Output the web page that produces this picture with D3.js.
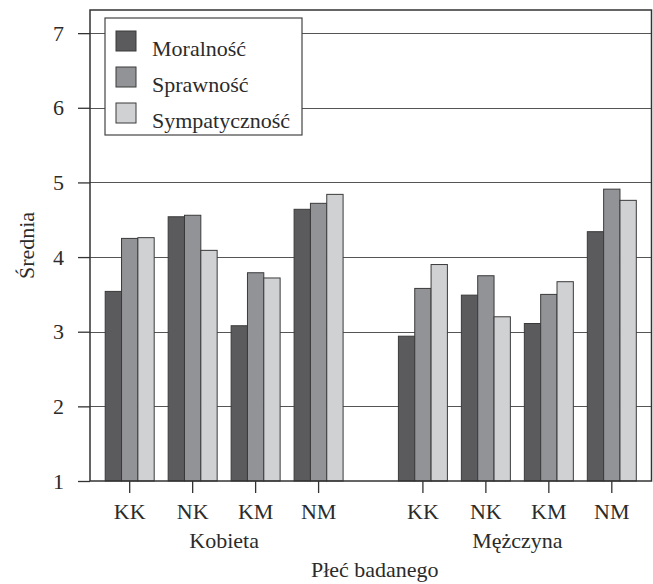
<!DOCTYPE html>
<html lang="pl">
<head>
    <meta charset="UTF-8">
    <title>Średnia wg płci badanego</title>
    <script src="https://d3js.org/d3.v7.min.js"></script>
    <style>
        body { margin: 0; background: #fff; }
        svg text { font-family: "Liberation Serif", "Times New Roman", serif; fill: #2b2b2b; }
    </style>
</head>
<body>
    <div id="chart-container"></div>

    <script>
        // dane
        const genders = ["Kobieta", "Mężczyna"];
        const conditions = ["KK", "NK", "KM", "NM"];
        const series = ["Moralność", "Sprawność", "Sympatyczność"];
        const colors = ["#5b5b5d", "#929397", "#d0d1d3"];
        const yTicks = [1, 2, 3, 4, 5, 6, 7];

        // wartości: [płeć][warunek][cecha]
        const womenValues = [
            [3.54, 4.25, 4.26],
            [4.54, 4.56, 4.09],
            [3.08, 3.79, 3.72],
            [4.64, 4.72, 4.84]
        ];
        const menValues = [
            [2.94, 3.58, 3.90],
            [3.49, 3.75, 3.20],
            [3.11, 3.50, 3.67],
            [4.34, 4.91, 4.76]
        ];
        const allValues = [womenValues, menValues];

        const data = [];
        genders.forEach((g, gi) => {
            conditions.forEach((c, ci) => {
                series.forEach((s, si) => {
                    data.push({ gender: g, cond: c, serie: s, value: allValues[gi][ci][si] });
                });
            });
        });

        const W = 653, H = 584;
        const margin = { top: 10, right: 1.5, bottom: 103, left: 90 };
        const width = W - margin.left - margin.right;
        const height = H - margin.top - margin.bottom;

        const svg = d3.select("#chart-container")
            .append("svg")
            .attr("width", W)
            .attr("height", H);

        const g = svg.append("g")
            .attr("transform", `translate(${margin.left}, ${margin.top})`);

        const y = d3.scaleLinear()
            .domain([1, 7.31])
            .range([height, 0]);

        const x0 = d3.scaleBand()
            .domain(genders)
            .range([0, width])
            .paddingInner(0.141)
            .paddingOuter(0.028);

        const x1 = d3.scaleBand()
            .domain(conditions)
            .range([0, x0.bandwidth()])
            .paddingInner(0.222)
            .paddingOuter(0.111);

        const x2 = d3.scaleBand()
            .domain(series)
            .range([0, x1.bandwidth()]);

        const color = d3.scaleOrdinal().domain(series).range(colors);

        // linie siatki
        g.selectAll(".grid")
            .data(yTicks.slice(1))
            .enter().append("line")
            .attr("class", "grid")
            .attr("x1", 0)
            .attr("x2", width)
            .attr("y1", d => Math.round(y(d)) + 0.5)
            .attr("y2", d => Math.round(y(d)) + 0.5)
            .attr("stroke", "#555")
            .attr("stroke-width", 1.2);

        // słupki
        g.selectAll("rect.bar")
            .data(data)
            .enter().append("rect")
            .attr("class", "bar")
            .attr("x", d => x0(d.gender) + x1(d.cond) + x2(d.serie))
            .attr("y", d => y(d.value))
            .attr("width", x2.bandwidth())
            .attr("height", d => y(1) - y(d.value))
            .attr("fill", d => color(d.serie))
            .attr("stroke", "#3a3a3a")
            .attr("stroke-width", 1);

        // ramka
        g.append("rect")
            .attr("x", 0).attr("y", 0)
            .attr("width", width).attr("height", height)
            .attr("fill", "none")
            .attr("stroke", "#333")
            .attr("stroke-width", 1.5);

        // oś Y
        const yAxis = g.append("g")
            .call(d3.axisLeft(y).tickValues(yTicks).tickSize(12).tickPadding(14).tickFormat(d3.format("d")));
        yAxis.select(".domain").remove();
        yAxis.selectAll(".tick line").attr("stroke", "#333").attr("stroke-width", 1.3);
        yAxis.selectAll(".tick text")
            .style("font-size", "22px")
            .style("font-family", "'Liberation Serif', serif")
            .attr("fill", "#2b2b2b");

        // oś X: warunki w obrębie płci
        genders.forEach(gd => {
            const ax = g.append("g")
                .attr("transform", `translate(${x0(gd)}, ${height})`)
                .call(d3.axisBottom(x1).tickSize(12).tickPadding(10));
            ax.select(".domain").remove();
            ax.selectAll(".tick line").attr("stroke", "#333").attr("stroke-width", 1.3);
            ax.selectAll(".tick text")
                .style("font-size", "22px")
                .style("font-family", "'Liberation Serif', serif")
                .attr("fill", "#2b2b2b");

            g.append("text")
                .attr("x", x0(gd) + x0.bandwidth() / 2)
                .attr("y", height + 67)
                .attr("text-anchor", "middle")
                .style("font-size", "22px")
                .text(gd);
        });

        // tytuły osi
        svg.append("text")
            .attr("transform", `translate(34, ${margin.top + height / 2}) rotate(-90)`)
            .attr("text-anchor", "middle")
            .style("font-size", "22px")
            .text("Średnia");

        svg.append("text")
            .attr("x", margin.left + width / 2 + 4)
            .attr("y", 577)
            .attr("text-anchor", "middle")
            .style("font-size", "22px")
            .text("Płeć badanego");

        // legenda
        const legend = svg.append("g").attr("transform", "translate(105, 18)");
        legend.append("rect")
            .attr("width", 197).attr("height", 117)
            .attr("fill", "#fff")
            .attr("stroke", "#444")
            .attr("stroke-width", 1.2);
        series.forEach((s, i) => {
            legend.append("rect")
                .attr("x", 11).attr("y", 13 + i * 36)
                .attr("width", 20).attr("height", 20)
                .attr("fill", color(s))
                .attr("stroke", "#3a3a3a");
            legend.append("text")
                .attr("x", 47).attr("y", 38 + i * 36)
                .style("font-size", "22px")
                .text(s);
        });
    </script>
</body>
</html>
